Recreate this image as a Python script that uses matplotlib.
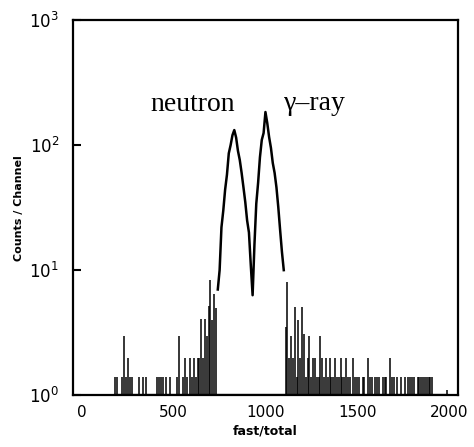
import numpy as np
import matplotlib
matplotlib.use('Agg')
import matplotlib.pyplot as plt

# sparse channels outside the two peaks (fast/total, counts per channel)
spike_x = [180, 190, 220, 230, 240, 250, 260, 270, 310, 330, 350, 410, 420, 430, 440, 460,
           480, 520, 530, 550, 560, 570, 590, 600, 610, 620, 630, 640, 650, 660, 670, 680,
           690, 700, 710, 720, 730,
           1110, 1120, 1130, 1140, 1150, 1160, 1170, 1180, 1190, 1200, 1210, 1220, 1230,
           1240, 1250, 1260, 1270, 1280, 1290, 1300, 1310, 1320, 1330, 1340, 1350, 1360,
           1370, 1380, 1390, 1400, 1410, 1420, 1430, 1440, 1450, 1460, 1480, 1490, 1500,
           1510, 1530, 1540, 1560, 1570, 1580, 1600, 1610, 1620, 1640, 1650, 1660, 1680,
           1690, 1700, 1720, 1740, 1760, 1780, 1790, 1800, 1810, 1830, 1840, 1850, 1860,
           1870, 1880, 1890, 1900, 1910, 1990]
spike_y = [1.4, 1.4, 1.4, 3.0, 1.4, 2.0, 1.4, 1.4, 1.4, 1.4, 1.4, 1.4, 1.4, 1.4, 1.4, 1.4,
           1.4, 1.4, 3.0, 1.4, 2.0, 1.4, 2.0, 1.4, 2.0, 1.4, 2.0, 2.0, 4.1, 2.0, 4.1, 3.0,
           5.2, 8.3, 4.0, 6.5, 5.0,
           3.5, 8.0, 2.0, 3.0, 2.0, 5.1, 1.4, 4.0, 2.0, 5.1, 3.1, 1.4, 2.0,
           3.0, 1.4, 2.0, 2.0, 1.4, 1.4, 3.0, 2.0, 1.4, 2.0, 1.4, 2.0, 1.4,
           1.4, 2.0, 1.4, 1.4, 2.0, 1.4, 1.4, 2.0, 1.4, 1.4, 2.0, 1.4, 1.4,
           1.4, 1.4, 1.4, 2.0, 1.4, 1.4, 1.4, 1.4, 1.4, 1.4, 1.4, 1.4, 2.0,
           1.4, 1.4, 1.4, 1.4, 1.4, 1.4, 1.4, 1.4, 1.4, 1.4, 1.4, 1.4, 1.4,
           1.4, 1.4, 1.4, 1.4, 1.4, 1.1]

# neutron and gamma-ray peaks
peak_x = [740, 750, 760, 770, 780, 790, 800, 810, 820, 830, 840, 850, 860, 870, 880, 890,
          900, 910, 920, 930, 940, 950, 960, 970, 980, 990, 1000, 1010, 1020, 1030, 1040,
          1050, 1060, 1070, 1080, 1090, 1100]
peak_y = [7.0, 10, 22, 30, 44, 58, 86, 100, 120, 132, 115, 90, 76, 60, 46, 35,
          25, 20, 11, 6.3, 16, 34, 50, 80, 110, 125, 184, 150, 116, 95, 72,
          60, 46, 32, 21, 14, 10]

fig = plt.figure(figsize=(4.74, 4.47), dpi=100)
ax = fig.add_axes([0.154, 0.116, 0.812, 0.839])

ax.vlines(spike_x, 1, spike_y, color='black', linewidth=1.1)
ax.plot(peak_x, peak_y, color='black', linewidth=1.8)
# baseline of the histogram
ax.plot([spike_x[0], spike_x[-1]], [1, 1], color='black', linewidth=1.6)

ax.set_yscale('log')
ax.set_ylim(1, 1000)
ax.set_xlim(-50, 2050)
ax.set_xticks([0, 500, 1000, 1500, 2000])
ax.set_yticks([1, 10, 100, 1000])
ax.set_yticklabels([r'$10^0$', r'$10^1$', r'$10^2$', r'$10^3$'], family='Liberation Serif', fontsize=12)
ax.minorticks_off()
ax.tick_params(axis='y', direction='in', length=6, width=1.5, pad=10)
ax.tick_params(axis='x', direction='in', length=0, labelsize=11, pad=7)
for s in ax.spines.values():
    s.set_linewidth(1.6)

ax.set_xlabel('fast/total', fontsize=9, fontweight='bold', labelpad=3)
ax.set_ylabel('Counts / Channel', fontsize=8, fontweight='bold', labelpad=4)

ax.text(605, 210, 'neutron', family='Liberation Serif', fontsize=20, ha='center', va='center')
ax.text(1270, 215, '\u03b3\u2013ray', family='Liberation Serif', fontsize=20,
        ha='center', va='center')

fig.savefig('out.png', dpi=100)
